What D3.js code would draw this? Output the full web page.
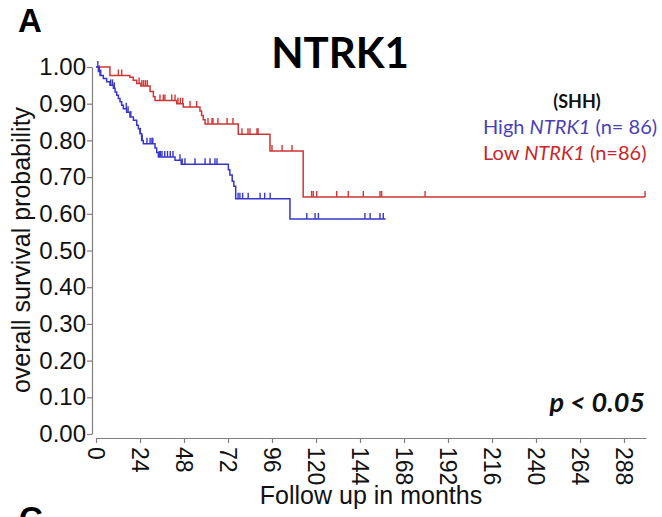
<!DOCTYPE html>
<html>
<head>
<meta charset="utf-8">
<script src="https://cdn.jsdelivr.net/npm/d3@7"></script>
<style>
  body { margin: 0; background: #fff; }
  svg { display: block; }
</style>
</head>
<body>
<div id="chart"></div>
<script>
// survival steps (months, survival after the drop)
const highTime = [1.3, 2.2, 4.0, 5.8, 7.6, 9.5, 10.4, 11.3, 12.2, 13.1, 14.0, 14.9, 16.7, 18.5, 20.4, 22.2, 23.1, 24.0, 24.9, 25.8, 32.2, 33.1, 34.0, 43.1, 46.5, 72.2, 73.0, 74.3, 75.2, 76.2, 105.8];
const highSurv = [0.988, 0.977, 0.969, 0.960, 0.950, 0.942, 0.932, 0.923, 0.914, 0.905, 0.896, 0.886, 0.877, 0.864, 0.855, 0.841, 0.832, 0.818, 0.800, 0.791, 0.779, 0.767, 0.755, 0.746, 0.735, 0.720, 0.706, 0.689, 0.675, 0.641, 0.586];
const highCensor = [1.0, 1.8, 2.6, 8.0, 9.0, 10.0, 16.5, 17.5, 19.0, 24.2, 25.2, 27.8, 29.5, 30.5, 31.0, 34.5, 35.2, 36.0, 37.5, 39.0, 40.5, 42.0, 45.8, 47.0, 48.5, 54.0, 59.5, 62.2, 64.9, 66.0, 77.5, 78.5, 80.0, 83.0, 89.5, 92.0, 95.0, 115.0, 119.5, 121.3, 146.7, 149.5, 154.9, 156.7];
const highEnd = 158;

const lowTime = [7.6, 18.5, 20.3, 22.2, 24.5, 29.5, 31.3, 32.2, 44.0, 47.6, 56.7, 57.6, 58.5, 59.5, 77.6, 94.9, 113.0];
const lowSurv = [0.977, 0.972, 0.964, 0.955, 0.948, 0.933, 0.919, 0.909, 0.900, 0.891, 0.880, 0.868, 0.856, 0.845, 0.817, 0.771, 0.646];
const lowCensor = [12.2, 14.0, 23.5, 25.0, 26.0, 27.0, 28.0, 34.9, 36.7, 37.6, 41.3, 43.1, 44.7, 46.0, 47.3, 51.3, 54.9, 61.1, 63.3, 63.8, 66.5, 71.5, 74.7, 79.6, 82.9, 84.0, 87.8, 88.4, 96.0, 101.5, 106.9, 117.6, 118.5, 120.4, 131.3, 137.6, 145.8, 154.9, 155.8, 179.5, 299.5];
const lowEnd = 299.5;

const xTicks = [0, 24, 48, 72, 96, 120, 144, 168, 192, 216, 240, 264, 288];
const yTicks = [0, 0.1, 0.2, 0.3, 0.4, 0.5, 0.6, 0.7, 0.8, 0.9, 1.0];

const W = 662, H = 517;
const blue = '#3636cc', red = '#cf3535';
const axisFont = 'Liberation Sans, Arial, sans-serif';
const textFont = 'Lato, "Open Sans", sans-serif';

const svg = d3.select('#chart').append('svg')
  .attr('width', W).attr('height', H);

const x = d3.scaleLinear().domain([0, 300]).range([96, 646]);
const y = d3.scaleLinear().domain([0, 1]).range([434, 67]);

// axes (R style, detached)
const xAxis = svg.append('g')
  .attr('transform', 'translate(0,438)')
  .call(d3.axisBottom(x).tickValues(xTicks).tickSize(5).tickSizeOuter(0));
xAxis.selectAll('text')
  .attr('transform', 'rotate(90)')
  .attr('x', 9).attr('y', 0).attr('dy', '0.36em')
  .attr('text-anchor', 'start');

const yAxis = svg.append('g')
  .attr('transform', 'translate(92,0)')
  .call(d3.axisLeft(y).tickValues(yTicks).tickSize(5).tickSizeOuter(0).tickPadding(1).tickFormat(d3.format('.2f')));

[xAxis, yAxis].forEach(g => {
  g.select('.domain').attr('stroke', '#808080').attr('stroke-width', 1.2);
  g.selectAll('.tick line').attr('stroke', '#808080').attr('stroke-width', 1.2);
  g.selectAll('text').attr('fill', '#111').style('font-family', axisFont).style('font-size', '23px');
});
yAxis.selectAll('text').style('font-size', '24px');

const line = d3.line().x(d => x(d[0])).y(d => y(d[1])).curve(d3.curveStepAfter);

const drawCurve = (times, surv, censor, end, color) => {
  const pts = [[0, 1]].concat(times.map((t, i) => [t, surv[i]]));
  pts.push([end, surv[surv.length - 1]]);
  svg.append('path')
    .attr('d', line(pts))
    .attr('fill', 'none')
    .attr('stroke', color)
    .attr('stroke-width', 1.5);

  const survAt = t => {
    const i = d3.bisectRight(times, t);
    return i === 0 ? 1 : surv[i - 1];
  };
  svg.append('g').selectAll('line')
    .data(censor)
    .join('line')
    .attr('x1', d => x(d)).attr('x2', d => x(d))
    .attr('y1', d => y(survAt(d))).attr('y2', d => y(survAt(d)) - 6)
    .attr('stroke', color)
    .attr('stroke-width', 1.4);
};

drawCurve(lowTime, lowSurv, lowCensor, lowEnd, red);
drawCurve(highTime, highSurv, highCensor, highEnd, blue);

// axis titles
svg.append('text')
  .attr('x', 371).attr('y', 504)
  .attr('text-anchor', 'middle')
  .style('font-family', axisFont).style('font-size', '25px').attr('fill', '#111')
  .text('Follow up in months');

svg.append('text')
  .attr('transform', 'translate(30,250) rotate(-90)')
  .attr('text-anchor', 'middle')
  .style('font-family', axisFont).style('font-size', '25px').attr('fill', '#111')
  .text('overall survival probability');

// title and panel letters
svg.append('text')
  .attr('x', 340).attr('y', 68)
  .attr('text-anchor', 'middle')
  .style('font-family', textFont).style('font-weight', 'bold').style('font-size', '42px')
  .text('NTRK1');

svg.append('text')
  .attr('x', 18).attr('y', 32)
  .style('font-family', axisFont).style('font-weight', 'bold').style('font-size', '33px')
  .text('A');

// next panel's letter, cut by the bottom edge as in the source figure
svg.append('text')
  .attr('x', 19).attr('y', 530)
  .style('font-family', axisFont).style('font-weight', 'bold').style('font-size', '33px')
  .text('C');

// legend
svg.append('text')
  .attr('x', 577).attr('y', 108)
  .attr('text-anchor', 'middle')
  .style('font-family', textFont).style('font-weight', 'bold').style('font-size', '18px')
  .attr('fill', '#111')
  .text('(SHH)');

const legend = [
  { label: 'High ', gene: 'NTRK1', n: ' (n= 86)', color: '#4a3fb8', y: 134 },
  { label: 'Low ', gene: 'NTRK1', n: ' (n=86)', color: '#c8262c', y: 160 },
];
legend.forEach(d => {
  const t = svg.append('text')
    .attr('x', 483).attr('y', d.y)
    .style('font-family', textFont).style('font-size', '20px')
    .attr('fill', d.color);
  t.append('tspan').text(d.label);
  t.append('tspan').style('font-style', 'italic').text(d.gene);
  t.append('tspan').text(d.n);
});

svg.append('text')
  .attr('x', 645).attr('y', 412)
  .attr('text-anchor', 'end')
  .style('font-family', textFont).style('font-weight', 'bold').style('font-style', 'italic').style('font-size', '27px')
  .attr('fill', '#111')
  .text('p < 0.05');
</script>
</body>
</html>
